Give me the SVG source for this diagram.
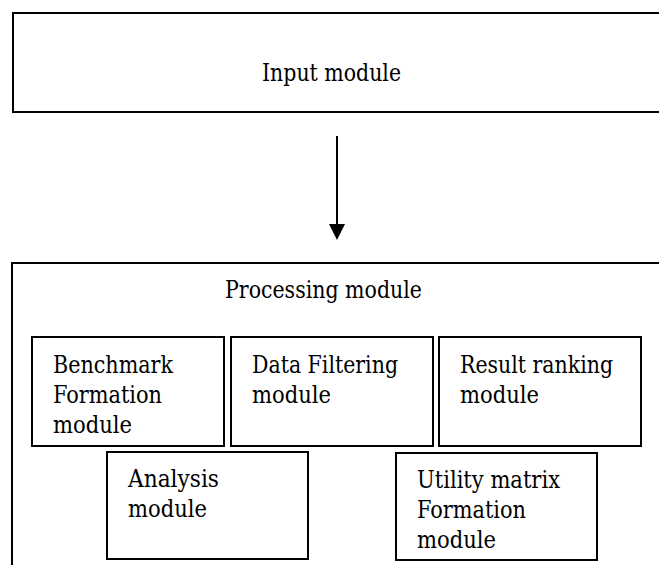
<svg xmlns="http://www.w3.org/2000/svg" width="659" height="565" viewBox="0 0 659 565">
  <style>
    .box { fill: #ffffff; stroke: #000000; stroke-width: 2; }
    .label { font-family: 'DejaVu Serif Condensed', 'DejaVu Serif', 'Liberation Serif', serif; font-stretch: condensed; font-size: 24px; fill: #000000; }
    .wire { stroke: #000000; stroke-width: 2; fill: none; }
  </style>
  <rect width="659" height="565" fill="#ffffff"/>

  <g id="input-module">
    <rect class="box" x="13" y="13" width="700" height="99"/>
    <text class="label" x="262" y="81" textLength="139" lengthAdjust="spacingAndGlyphs">Input module</text>
  </g>

  <g id="connectors">
    <line class="wire" x1="337" y1="136" x2="337" y2="226"/>
    <path d="M329,224 L345,224 L337,240 Z" fill="#000000"/>
  </g>

  <g id="processing-module">
    <rect class="box" x="12" y="263" width="700" height="400"/>
    <text class="label" x="225" y="298" textLength="197" lengthAdjust="spacingAndGlyphs">Processing module</text>
  </g>

  <g id="benchmark-formation-module">
    <rect class="box" x="32" y="337" width="192" height="109"/>
    <text class="label" x="53" y="373" textLength="120" lengthAdjust="spacingAndGlyphs">Benchmark</text>
    <text class="label" x="53" y="403" textLength="109" lengthAdjust="spacingAndGlyphs">Formation</text>
    <text class="label" x="53" y="433" textLength="79" lengthAdjust="spacingAndGlyphs">module</text>
  </g>

  <g id="data-filtering-module">
    <rect class="box" x="231" y="337" width="202" height="109"/>
    <text class="label" x="252" y="373" textLength="146" lengthAdjust="spacingAndGlyphs">Data Filtering</text>
    <text class="label" x="252" y="403" textLength="79" lengthAdjust="spacingAndGlyphs">module</text>
  </g>

  <g id="result-ranking-module">
    <rect class="box" x="439" y="337" width="202" height="109"/>
    <text class="label" x="460" y="373" textLength="153" lengthAdjust="spacingAndGlyphs">Result ranking</text>
    <text class="label" x="460" y="403" textLength="79" lengthAdjust="spacingAndGlyphs">module</text>
  </g>

  <g id="analysis-module">
    <rect class="box" x="107" y="452" width="201" height="107"/>
    <text class="label" x="128" y="487" textLength="91" lengthAdjust="spacingAndGlyphs">Analysis</text>
    <text class="label" x="128" y="517" textLength="79" lengthAdjust="spacingAndGlyphs">module</text>
  </g>

  <g id="utility-matrix-formation-module">
    <rect class="box" x="396" y="453" width="201" height="107"/>
    <text class="label" x="417" y="488" textLength="143" lengthAdjust="spacingAndGlyphs">Utility matrix</text>
    <text class="label" x="417" y="518" textLength="109" lengthAdjust="spacingAndGlyphs">Formation</text>
    <text class="label" x="417" y="548" textLength="79" lengthAdjust="spacingAndGlyphs">module</text>
  </g>
</svg>
